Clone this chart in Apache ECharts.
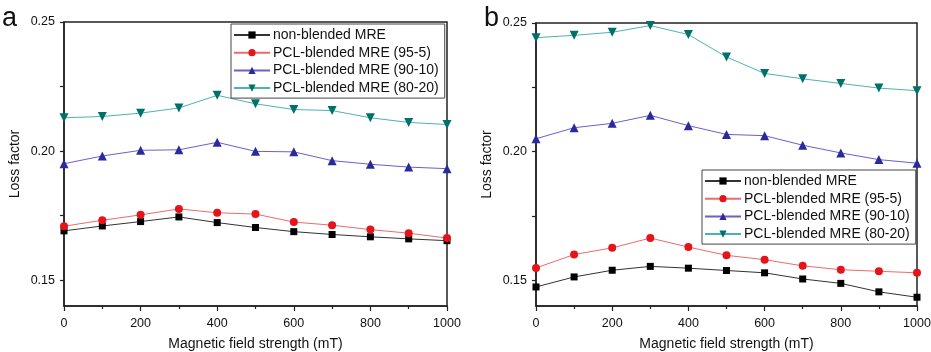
<!DOCTYPE html>
<html><head><meta charset="utf-8">
<script src="https://cdn.jsdelivr.net/npm/echarts@6/dist/echarts.min.js"></script>
<style>html,body{margin:0;padding:0;background:#fff}#c{width:931px;height:352px}</style>
</head><body><div id="c"></div>
<script>
const fieldStrength = [0,100,200,300,400,500,600,700,800,900,1000];
const seriesNames = ['non-blended MRE','PCL-blended MRE (95-5)','PCL-blended MRE (90-10)','PCL-blended MRE (80-20)'];
// panel a
const a_nonBlended = [0.1691,0.1710,0.1727,0.1745,0.1723,0.1704,0.1688,0.1677,0.1668,0.1660,0.1653];
const a_pcl95 = [0.1709,0.1732,0.1753,0.1776,0.1761,0.1756,0.1725,0.1713,0.1696,0.1682,0.1663];
const a_pcl90 = [0.1951,0.1981,0.2003,0.2005,0.2034,0.1999,0.1997,0.1963,0.1949,0.1938,0.1932];
const a_pcl80 = [0.2129,0.2134,0.2147,0.2167,0.2216,0.2183,0.2161,0.2157,0.2129,0.2111,0.2103];
// panel b
const b_nonBlended = [0.1474,0.1513,0.1539,0.1554,0.1547,0.1538,0.1529,0.1505,0.1488,0.1455,0.1434];
const b_pcl95 = [0.1548,0.1600,0.1626,0.1664,0.1629,0.1597,0.1580,0.1556,0.1541,0.1535,0.1529];
const b_pcl90 = [0.2050,0.2093,0.2110,0.2141,0.2101,0.2067,0.2062,0.2025,0.1995,0.1969,0.1955];
const b_pcl80 = [0.2443,0.2452,0.2464,0.2490,0.2455,0.2368,0.2304,0.2283,0.2265,0.2247,0.2237];
const yLabels = [0.15,0.20,0.25];
const yTicks = [0.15,0.175,0.20,0.225,0.25];

const FONT = "'Liberation Sans', Arial, sans-serif";
const styles = [
  {line:'#333333', mark:'#000000', symbol:'rect', size:7},
  {line:'#f06a6a', mark:'#e5141b', symbol:'circle', size:8},
  {line:'#6a5fd0', mark:'#2b2a9c', symbol:'triangle', size:9},
  {line:'#4fb3ad', mark:'#00706a', symbol:'path://M0,0 L10,0 L5,9 Z', size:9}
];
const chart = echarts.init(document.getElementById('c'));
const grids = [
  {left:64, top:22, width:383, height:284},
  {left:536, top:23, width:381, height:283}
];
function xAxis(i){return {
  type:'value', gridIndex:i, min:0, max:1000, interval:200,
  name:'Magnetic field strength (mT)', nameLocation:'middle', nameGap:31,
  nameTextStyle:{fontFamily:FONT, fontSize:14, color:'#111'},
  axisLine:{lineStyle:{color:'#222', width:1.5}},
  axisTick:{show:true, inside:false, length:5, lineStyle:{color:'#222', width:1.2}},
  minorTick:{show:true, splitNumber:2, length:3, lineStyle:{color:'#222', width:1.2}},
  axisLabel:{fontFamily:FONT, fontSize:12.5, color:'#111', margin:11, formatter:v=>String(v)},
  splitLine:{show:false}
};}
function yAxis(i){return {
  type:'value', gridIndex:i, min:0.14, max:0.25,
  name:'Loss factor', nameLocation:'middle', nameGap:42,
  nameTextStyle:{fontFamily:FONT, fontSize:14, color:'#111'},
  axisLine:{lineStyle:{color:'#222', width:1.5}},
  axisTick:{show:true, inside:false, length:4, customValues:yTicks, lineStyle:{color:'#222', width:1.2}},
  axisLabel:{fontFamily:FONT, fontSize:12.5, color:'#111', margin:9, customValues:yLabels,
    formatter:v=>v.toFixed(2)},
  splitLine:{show:false}
};}
const dataA = [a_nonBlended,a_pcl95,a_pcl90,a_pcl80];
const dataB = [b_nonBlended,b_pcl95,b_pcl90,b_pcl80];
const series = [];
[dataA,dataB].forEach((set,gi)=>{
  set.forEach((vals,si)=>{
    const s = styles[si];
    series.push({
      name:seriesNames[si], type:'line', xAxisIndex:gi, yAxisIndex:gi,
      data: fieldStrength.map((x,k)=>[x, vals[k]]),
      symbol:s.symbol, symbolSize:s.size, showSymbol:true,
      lineStyle:{color:s.line, width:1},
      itemStyle:{color:s.mark},
      animation:false
    });
  });
});
function legend(left, top){return {
  left, top, orient:'vertical', itemWidth:36, itemHeight:9, itemGap:3.7,
  padding:[4,6,3,2], borderColor:'#444', borderWidth:1, backgroundColor:'#fff',
  textStyle:{fontFamily:FONT, fontSize:14, lineHeight:14, color:'#111', padding:[0,0,0,-2]},
  data: seriesNames
};}
chart.setOption({
  backgroundColor:'#fff',
  animation:false,
  grid: grids.map(g=>Object.assign({show:true, borderColor:'#222', borderWidth:1.5, backgroundColor:'transparent', outerBoundsMode:'none', containLabel:false}, g)),
  xAxis:[xAxis(0), xAxis(1)],
  yAxis:[yAxis(0), yAxis(1)],
  legend:[legend(231,24), legend(702,170)],
  series,
  graphic:[
    {type:'text', left:2, top:5, style:{text:'a', font:"27px 'Liberation Sans', Arial", fill:'#111'}},
    {type:'text', left:484, top:5, style:{text:'b', font:"27px 'Liberation Sans', Arial", fill:'#111'}}
  ]
});
</script></body></html>
